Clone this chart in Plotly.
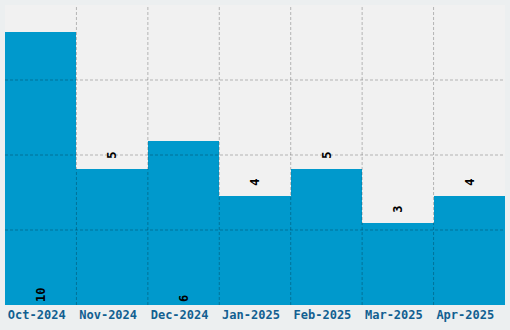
import plotly.graph_objects as go

months = ["Oct-2024", "Nov-2024", "Dec-2024", "Jan-2025", "Feb-2025", "Mar-2025", "Apr-2025"]
counts = [10, 5, 6, 4, 5, 3, 4]
label_pos = ["inside", "outside", "inside", "outside", "outside", "outside", "outside"]

y_max = 11
grid_color = "rgba(0,0,0,0.25)"
mono = "DejaVu Sans Mono"

# a small leading space lifts the outside labels a little off the bar top
labels = [("\u2004" + str(v)) if p == "outside" else str(v) for v, p in zip(counts, label_pos)]

fig = go.Figure(go.Bar(
    x=months, y=counts,
    marker=dict(color="#0099cc", line=dict(width=0)),
    text=labels,
    textposition=label_pos,
    insidetextanchor="start",
    textangle=-90,
    textfont=dict(family=mono, size=12, color="#000000", weight="bold"),
    cliponaxis=False,
))

shapes = []
for k in range(1, 4):
    shapes.append(dict(type="line", xref="paper", yref="y", x0=0, x1=1,
                       y0=y_max * k / 4, y1=y_max * k / 4, layer="above",
                       line=dict(color=grid_color, width=1, dash="3px,2px")))
for i in range(len(months) - 1):
    shapes.append(dict(type="line", xref="x", yref="paper", x0=i + 0.5, x1=i + 0.5,
                       y0=0, y1=1, layer="above",
                       line=dict(color=grid_color, width=1, dash="3px,2px")))

fig.update_layout(
    width=510, height=330,
    margin=dict(l=5, r=5, t=5, b=25),
    paper_bgcolor="#eceff0",
    plot_bgcolor="#f1f1f1",
    bargap=0,
    showlegend=False,
    shapes=shapes,
    xaxis=dict(showgrid=False, zeroline=False, showline=False, ticks="",
               tickfont=dict(family=mono, size=12, color="#125f91", weight="bold"),
               ticklabelshift=-4, ticklabelstandoff=1),
    yaxis=dict(range=[0, y_max], showgrid=False, zeroline=False, showline=False,
               showticklabels=False, ticks=""),
)

fig.write_html("out.html")
